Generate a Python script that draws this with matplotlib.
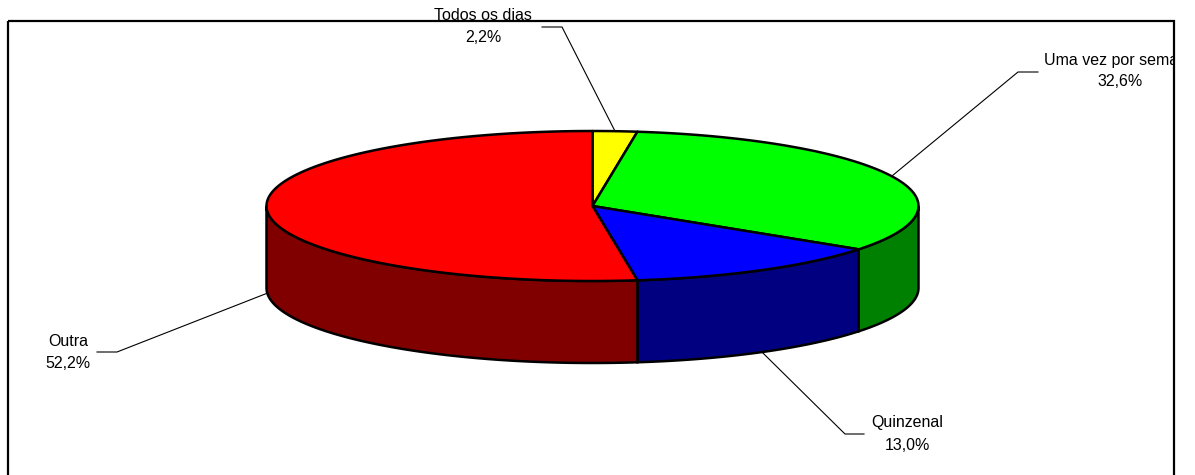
import numpy as np
import matplotlib
matplotlib.use("Agg")
import matplotlib.pyplot as plt
from matplotlib.patches import Polygon, Rectangle

plt.rcParams["font.family"] = ["Liberation Sans", "DejaVu Sans"]

# dados
categorias = ["Todos os dias", "Uma vez por semana", "Quinzenal", "Outra"]
percentuais = [2.2, 32.6, 13.0, 52.2]
rotulos_pct = ["2,2%", "32,6%", "13,0%", "52,2%"]
cores_topo = ["#FFFF00", "#00FF00", "#0000FF", "#FF0000"]
cores_lado = ["#808000", "#008000", "#000080", "#800000"]

# geometria da pizza (pixels)
cx, cy, rx, ry, prof = 592.5, 206, 326, 75, 82

# posicoes dos rotulos: (x texto, y linha1, y linha2, ponta da guia, cotovelo)
pos_rotulos = [
    (483, 15, 38, (542, 27), (562, 27)),
    (1120, 60, 82, (1038, 72), (1018, 72)),
    (907, 423, 445, (864, 434), (845, 434)),
    (68, 341, 363, (97, 352), (117, 352)),
]


def pt(t, dy=0):
    return cx + rx * np.sin(t), cy - ry * np.cos(t) + dy


fig = plt.figure(figsize=(11.95, 4.75), dpi=100)
ax = fig.add_axes([0, 0, 1, 1])
ax.set_xlim(0, 1195)
ax.set_ylim(475, 0)
ax.axis("off")

# moldura
ax.add_patch(Rectangle((8, 21), 1166, 500, fill=False, lw=1.6, ec="black"))

lims = np.cumsum([0] + percentuais) / 100 * 2 * np.pi

# laterais
for i in range(len(percentuais)):
    a0 = max(lims[i], np.pi / 2)
    a1 = min(lims[i + 1], 3 * np.pi / 2)
    if a1 <= a0:
        continue
    t = np.linspace(a0, a1, 100)
    xs, ys = pt(t)
    topo = np.column_stack([xs, ys])
    base = np.column_stack([xs, ys + prof])[::-1]
    ax.add_patch(Polygon(np.vstack([topo, base]), closed=True,
                         fc=cores_lado[i], ec="black", lw=1.8, zorder=2))

# topos
for i in range(len(percentuais)):
    t = np.linspace(lims[i], lims[i + 1], 200)
    xs, ys = pt(t)
    verts = np.vstack([[cx, cy], np.column_stack([xs, ys])])
    ax.add_patch(Polygon(verts, closed=True, fc=cores_topo[i],
                         ec="black", lw=1.8, joinstyle="round", zorder=3))

# rotulos e guias
clip = Rectangle((0, 0), 1174, 475, transform=ax.transData)
for i, (nome, pct) in enumerate(zip(categorias, rotulos_pct)):
    tx, y1, y2, p0, p1 = pos_rotulos[i]
    meio = (lims[i] + lims[i + 1]) / 2
    px, py = pt(meio)
    if np.pi / 2 < meio < 3 * np.pi / 2:
        py += prof
    ax.plot([p0[0], p1[0], px], [p0[1], p1[1], py], color="black",
            lw=0.8, zorder=1)
    t1 = ax.text(tx, y1, nome, ha="center", va="center", fontsize=11.5)
    t2 = ax.text(tx, y2, pct, ha="center", va="center", fontsize=11.5)
    if i != 0:
        for t in (t1, t2):
            t.set_clip_path(clip)
            t.set_clip_on(True)

fig.savefig("out.png", dpi=100)
